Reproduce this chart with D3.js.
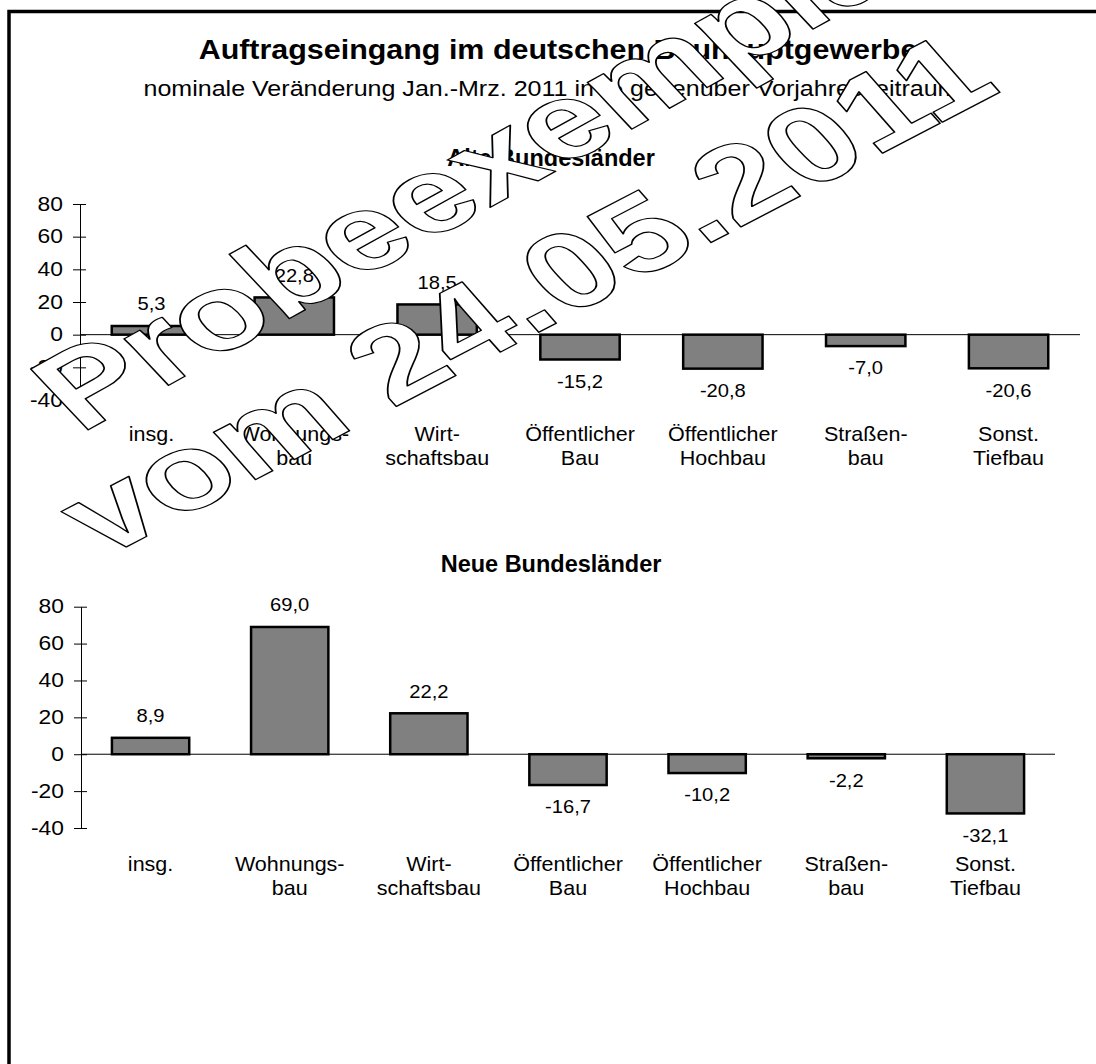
<!DOCTYPE html>
<html>
<head>
<meta charset="utf-8">
<script src="https://cdn.jsdelivr.net/npm/d3@7"></script>
<style>
  html, body { margin: 0; padding: 0; background: #fff; }
  svg { display: block; }
  text { font-family: "Liberation Sans", Arial, sans-serif; fill: #000; }
</style>
</head>
<body>
<svg id="chart" width="1096" height="1064"></svg>
<script>
// ---------- data ----------
const categories = [
  ["insg."],
  ["Wohnungs-", "bau"],
  ["Wirt-", "schaftsbau"],
  ["Öffentlicher", "Bau"],
  ["Öffentlicher", "Hochbau"],
  ["Straßen-", "bau"],
  ["Sonst.", "Tiefbau"]
];
const alteValues = [5.3, 22.8, 18.5, -15.2, -20.8, -7.0, -20.6];
const neueValues = [8.9, 69.0, 22.2, -16.7, -10.2, -2.2, -32.1];
const tickValues = [-40, -20, 0, 20, 40, 60, 80];
const panelTitles = ["Alte Bundesländer", "Neue Bundesländer"];
const mainTitle = "Auftragseingang im deutschen Bauhauptgewerbe";
const subTitle = "nominale Veränderung Jan.-Mrz. 2011 in % gegenüber Vorjahreszeitraum";
const watermark = ["Probeexemplar", "vom 24.05.2011"];

// ---------- setup ----------
const svg = d3.select("#chart");
const de = d3.formatLocale({decimal: ",", thousands: ".", grouping: [3], currency: ["", " €"], minus: "-"});
const fmtVal = de.format(".1f");
const fmtTick = d => String(d);

// text drawn at (x,y) and stretched horizontally (the reference text is slightly wide)
function wideText(parent, x, y, sx, size, str, opts = {}) {
  return parent.append("text")
    .attr("transform", `translate(${x},${y}) scale(${sx},1)`)
    .attr("text-anchor", opts.anchor || "middle")
    .attr("font-size", size)
    .attr("font-weight", opts.bold ? "bold" : "normal")
    .text(str);
}

svg.append("rect").attr("x", 0).attr("y", 0).attr("width", 1096).attr("height", 1064).attr("fill", "#fff");

// frame (only top and left edges visible)
svg.append("rect")
  .attr("x", 9).attr("y", 11.5).attr("width", 1300).attr("height", 1300)
  .attr("fill", "none").attr("stroke", "#000").attr("stroke-width", 3.5);

wideText(svg, 558, 59, 1.107, 27.5, mainTitle, {bold: true});
wideText(svg, 551, 96, 1.089, 23, subTitle);

function drawPanel(values, title, L) {
  const g = svg.append("g");
  const x = d3.scaleBand().domain(d3.range(categories.length))
    .range([L.x0, L.x1]).paddingInner(0.8 / 1.8).paddingOuter(0.4 / 1.8);
  const y = d3.scaleLinear().domain([-40, 80]).range([L.yBottom, L.yTop]);

  wideText(g, 551, L.titleY, 1, 23.5, title, {bold: true});

  // y axis
  const ax = g.append("g").attr("transform", `translate(${L.x0},0)`)
    .call(d3.axisLeft(y).tickValues(tickValues).tickFormat(fmtTick)
      .tickSizeInner(7).tickSizeOuter(0).tickPadding(10));
  ax.select(".domain").attr("stroke", "#000").attr("stroke-width", 1);
  ax.selectAll(".tick line").attr("x1", 6).attr("stroke", "#000").attr("stroke-width", 1);
  ax.selectAll(".tick text")
    .attr("x", 0).attr("transform", "translate(-17,0) scale(1.17,1)")
    .attr("font-size", 19.5).attr("fill", "#000")
    .attr("font-family", "Liberation Sans, Arial, sans-serif");

  // zero line (category axis)
  g.append("line").attr("x1", L.x0).attr("x2", L.x1)
    .attr("y1", y(0)).attr("y2", y(0)).attr("stroke", "#000").attr("stroke-width", 1);

  // bars
  g.selectAll("rect.bar").data(values).join("rect").attr("class", "bar")
    .attr("x", (d, i) => x(i))
    .attr("width", x.bandwidth())
    .attr("y", d => y(Math.max(0, d)))
    .attr("height", d => Math.abs(y(d) - y(0)))
    .attr("fill", "#808080").attr("stroke", "#000").attr("stroke-width", 2.5);

  // value labels
  g.selectAll("text.val").data(values).join("text").attr("class", "val")
    .attr("transform", (d, i) =>
      `translate(${x(i) + x.bandwidth() / 2},${y(d) + (d >= 0 ? -22 : 22)}) scale(1.12,1)`)
    .attr("dy", "0.35em")
    .attr("text-anchor", "middle").attr("font-size", 18)
    .text(d => fmtVal(d));

  // category labels
  const cl = g.selectAll("text.cat").data(categories).join("text").attr("class", "cat")
    .attr("text-anchor", "middle").attr("font-size", 20.5)
    .attr("transform", (d, i) => `translate(${x(i) + x.bandwidth() / 2},${L.labelY}) scale(1.05,1)`);
  cl.selectAll("tspan").data(d => d).join("tspan")
    .attr("x", 0).attr("y", (d, j) => j * 24).text(d => d);
}

drawPanel(alteValues, panelTitles[0], {x0: 80, x1: 1080, yTop: 204, yBottom: 400, titleY: 166, labelY: 441});
drawPanel(neueValues, panelTitles[1], {x0: 81, x1: 1055, yTop: 606.7, yBottom: 828, titleY: 572, labelY: 871});

// watermark (outlined, wide, slanted)
const wmPlace = [
  {x: 86, y: 431, angle: -41.5},
  {x: 109, y: 556, angle: -39.8}
];
svg.append("g").selectAll("text").data(watermark).join("text")
  .attr("transform", (d, i) =>
    `translate(${wmPlace[i].x},${wmPlace[i].y}) scale(1.6,1) rotate(${wmPlace[i].angle})`)
  .attr("font-size", 100.8).attr("font-weight", "bold").attr("font-style", "italic")
  .style("fill", "#fff").attr("stroke", "#000").attr("stroke-width", 1.5)
  .attr("vector-effect", "non-scaling-stroke")
  .attr("stroke-linejoin", "round")
  .text(d => d);
</script>
</body>
</html>
